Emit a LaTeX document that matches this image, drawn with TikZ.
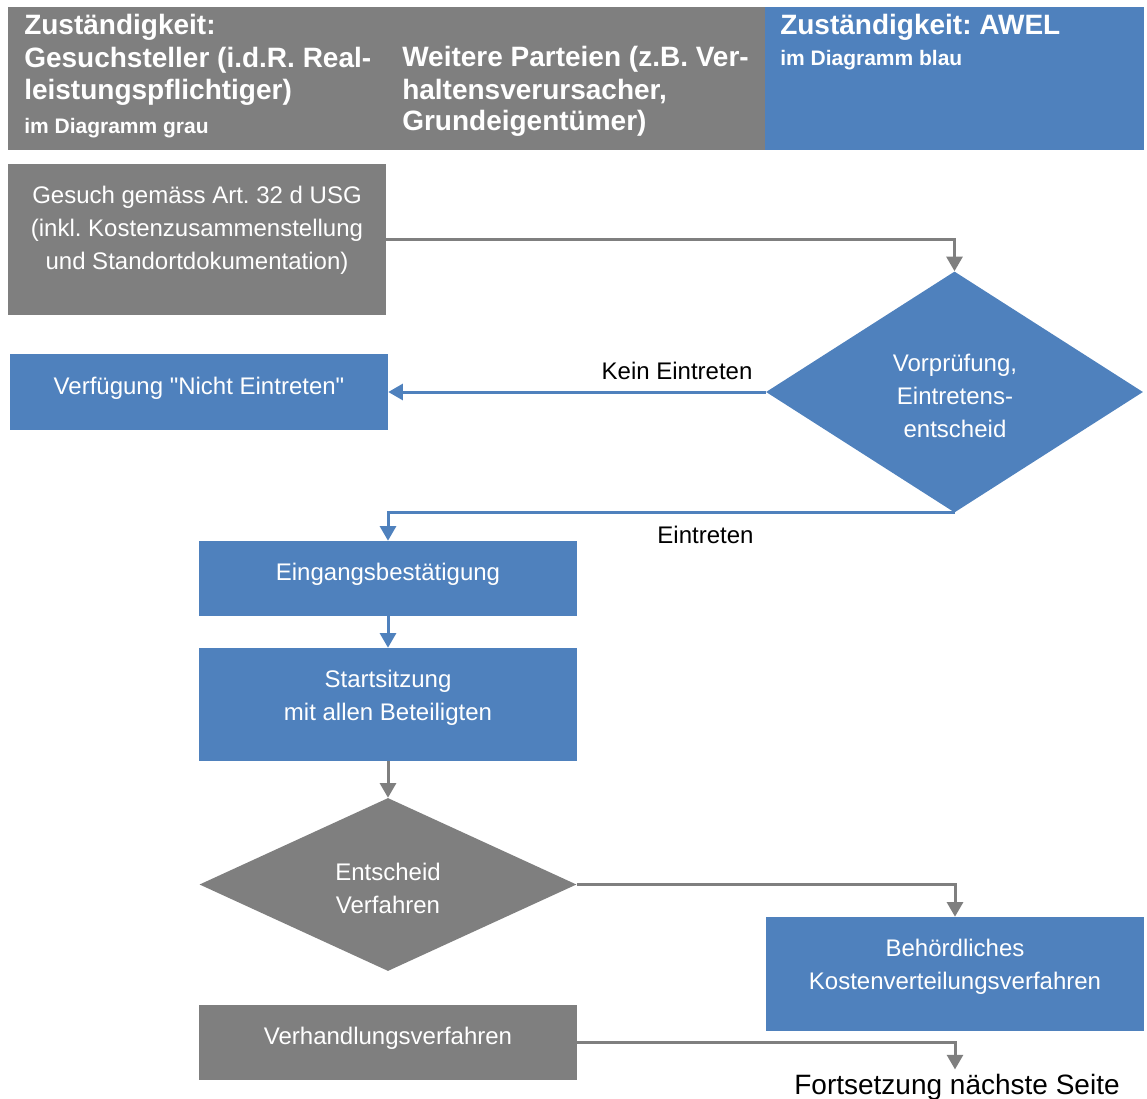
\documentclass[tikz,border=0pt]{standalone}
\usepackage{fontspec}
\setmainfont{Liberation Sans}[Ligatures=TeXOff]
\usetikzlibrary{shapes.geometric,arrows.meta}
\definecolor{awelgray}{HTML}{7F7F7F}
\definecolor{awelblue}{HTML}{4F81BD}
\frenchspacing

\begin{document}
\begin{tikzpicture}[x=0.75pt,y=-0.75pt,
  cell/.style={rectangle, inner sep=0pt, draw=none, anchor=north west},
  box/.style={rectangle, inner sep=0pt, draw=none, minimum width=378*0.75pt, minimum height=#1*0.75pt},
  graybox/.style={box=#1, fill=awelgray},
  bluebox/.style={box=#1, fill=awelblue},
  decision/.style={diamond, inner sep=0pt, draw=none, minimum width=377*0.75pt},
  boxtext/.style={text=white, font=\fontsize{18}{24.75}\selectfont, align=center, inner sep=0pt, anchor=base},
  edgetext/.style={text=black, font=\fontsize{18}{24.75}\selectfont, inner sep=0pt, anchor=base},
  headbig/.style={text=white, font=\bfseries\fontsize{21}{24}\selectfont, align=left, inner sep=0pt, anchor=base west},
  headsmall/.style={text=white, font=\bfseries\fontsize{15.75}{20}\selectfont, inner sep=0pt, anchor=base west},
  flow/.style={line width=2.25pt, -{Triangle[length=11pt,width=12pt]}},
  grayflow/.style={flow, draw=awelgray},
  blueflow/.style={flow, draw=awelblue}
]
\useasboundingbox (0,0) rectangle (1147,1099);

% header: responsibilities
\node[cell, fill=awelgray, minimum width=382*0.75pt, minimum height=143*0.75pt] (hleft) at (8,7) {};
\node[cell, fill=awelgray, minimum width=375*0.75pt, minimum height=143*0.75pt] (hmid) at (390,7) {};
\node[cell, fill=awelblue, minimum width=379*0.75pt, minimum height=143*0.75pt] (hright) at (765,7) {};

% multi-line texts are placed by the baseline of their last line
\node[headbig] (hleftt) at (24,99) {Zuständigkeit:\\Gesuchsteller (i.d.R. Real-\\leistungspflichtiger)};
\node[headsmall] (hleftsub) at (24,133) {im Diagramm grau};
\node[headbig] (hmidt) at (402,131) {Weitere Parteien (z.B. Ver-\\haltensverursacher,\\Grundeigentümer)};
\node[headbig] (hrightt) at (780,35) {Zuständigkeit: AWEL};
\node[headsmall] (hrightsub) at (780,66) {im Diagramm blau};

% process shapes
\node[graybox=151] (gesuch) at (197,239.5) {};
\node[decision, fill=awelblue, minimum height=241*0.75pt] (vor) at (954.5,392) {};
\node[bluebox=76] (verf) at (199,392) {};
\node[bluebox=75] (eing) at (388,578.5) {};
\node[bluebox=113] (start) at (388,704.5) {};
\node[decision, fill=awelgray, minimum height=173*0.75pt] (ent) at (388,884.5) {};
\node[bluebox=114] (beh) at (955,974) {};
\node[graybox=75] (verh) at (388,1042.5) {};

% texts of the shapes
\node[boxtext] (gesucht) at (197,269) {Gesuch gemäss Art. 32 d USG\\(inkl. Kostenzusammenstellung\\und Standortdokumentation)};
\node[boxtext] (vort) at (955,437) {Vorprüfung,\\Eintretens-\\entscheid};
\node[boxtext] (verft) at (199,394) {Verfügung "Nicht Eintreten"};
\node[boxtext] (eingt) at (388,580) {Eingangsbestätigung};
\node[boxtext] (startt) at (388,720) {Startsitzung\\mit allen Beteiligten};
\node[boxtext] (entt) at (388,913) {Entscheid\\Verfahren};
\node[boxtext] (beht) at (955,989) {Behördliches\\Kostenverteilungsverfahren};
\node[boxtext] (verht) at (388,1044) {Verhandlungsverfahren};

\node[text=black, font=\fontsize{21}{24}\selectfont, inner sep=0pt, anchor=base] (fort) at (957,1094) {Fortsetzung nächste Seite};

% connectors
\draw[grayflow] (gesuch.east) -| (vor.north);
\draw[blueflow] (vor.west) -- node[edgetext, pos=0.235, yshift=9.75pt] (kein) {Kein Eintreten} (verf.east);
\draw[blueflow] (vor.south) -| (eing.north);
\node[edgetext] (eintr) at (705.5,543) {Eintreten};
\draw[blueflow] (eing.south) -- (start.north);
\draw[grayflow] (start.south) -- (ent.north);
\draw[grayflow] (ent.east) -| (beh.north);
\draw[grayflow] (verh.east) -| ([xshift=-1.5pt,yshift=3pt]fort.north);
\end{tikzpicture}
\end{document}
